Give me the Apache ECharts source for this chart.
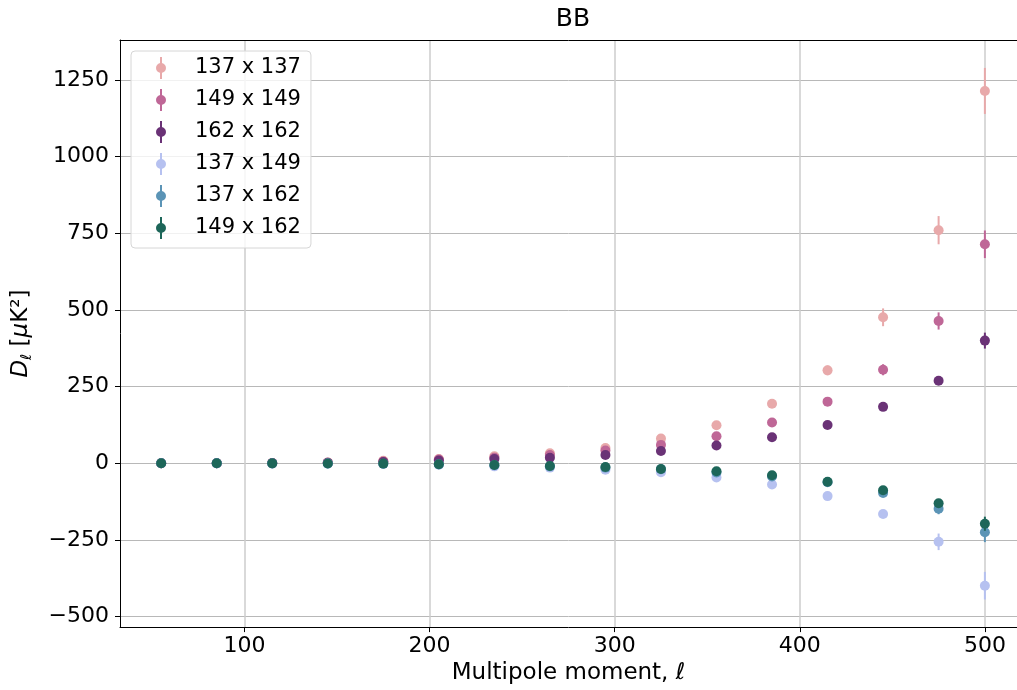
<!DOCTYPE html>
<html><head><meta charset="utf-8">
<script src="https://cdn.jsdelivr.net/npm/echarts@6/dist/echarts.min.js"></script>
<style>html,body{margin:0;padding:0;background:#fff}#c{width:1017px;height:690px}</style>
</head><body><div id="c"></div>
<script>
const ell = [55, 85, 115, 145, 175, 205, 235, 265, 295, 325, 355, 385, 415, 445, 475, 500];
const names = ['137 x 137', '149 x 149', '162 x 162', '137 x 149', '137 x 162', '149 x 162'];
const colors = ['#e8a9aa', '#bf6797', '#6a3276', '#b6c1f0', '#5b94b6', '#1d6659'];

const d137x137 = [0.3, 0.5, 1, 3, 8, 14, 23, 33, 50, 81, 124, 194, 303, 476, 760, 1214];
const e137x137 = [0.1, 0.2, 0.3, 0.5, 1, 1.5, 2, 3, 4, 5, 7, 9, 16, 29, 46, 75];
const d149x149 = [0.2, 0.4, 0.8, 2, 6, 12, 18, 27, 42, 60, 88, 133, 201, 305, 464, 714];
const e149x149 = [0.1, 0.1, 0.2, 0.4, 0.8, 1.2, 1.6, 2, 3, 4, 5, 7, 10, 18, 28, 45];
const d162x162 = [0.2, 0.3, 0.5, 1.5, 4, 9, 14, 18, 27, 40, 58, 85, 125, 184, 269, 400];
const e162x162 = [0.1, 0.1, 0.2, 0.3, 0.5, 0.8, 1, 1.5, 2, 3, 4, 5, 6, 8, 12, 26];
const d137x149 = [-0.1, -0.2, -0.4, -1, -2.5, -5, -10, -14, -21, -29, -46, -69, -107, -165, -256, -399];
const e137x149 = [0.1, 0.1, 0.2, 0.3, 0.5, 0.8, 1, 1.5, 2, 3, 4, 5, 7, 13, 27, 45];
const d137x162 = [-0.1, -0.1, -0.3, -0.8, -1.5, -3.5, -6, -10, -14, -19, -30, -43, -62, -97, -148, -225];
const e137x162 = [0.1, 0.1, 0.1, 0.2, 0.3, 0.5, 0.8, 1, 1.5, 2, 3, 4, 5, 8, 18, 32];
const d149x162 = [-0.1, -0.1, -0.2, -0.5, -1, -3, -5.5, -9, -12, -18.5, -26, -39, -60, -88, -130, -197];
const e149x162 = [0.1, 0.1, 0.1, 0.2, 0.3, 0.5, 0.7, 1, 1.5, 2, 3, 4, 5, 7, 10, 23];

const xTicks = [100, 200, 300, 400, 500];
const yTicks = [-500, -250, 0, 250, 500, 750, 1000, 1250];
const titleText = 'BB';

const values = [d137x137, d149x149, d162x162, d137x149, d137x162, d149x162];
const errors = [e137x137, e149x149, e162x162, e137x149, e137x162, e149x162];

const FONT = 'DejaVu Sans';
const series = [];
names.forEach((nm, i) => {
  const col = colors[i];
  series.push({
    name: nm + ' err', type: 'custom', silent: true, z: 2 + 2 * i,
    encode: {x: 0, y: [1, 2]},
    data: ell.map((x, j) => [x, values[i][j] - errors[i][j], values[i][j] + errors[i][j]]),
    renderItem: (params, api) => {
      const p1 = api.coord([api.value(0), api.value(1)]);
      const p2 = api.coord([api.value(0), api.value(2)]);
      return {type: 'line', shape: {x1: p1[0], y1: p1[1], x2: p2[0], y2: p2[1]},
              style: {stroke: col, lineWidth: 2}};
    }
  });
  series.push({
    name: nm, type: 'scatter', z: 3 + 2 * i, symbol: 'circle', symbolSize: 10,
    itemStyle: {color: col, opacity: 1},
    emphasis: {disabled: true},
    data: ell.map((x, j) => [x, values[i][j]])
  });
});

const XMIN = 32.75, XMAX = 517.35;
const chart = echarts.init(document.getElementById('c'), null, {renderer: 'canvas'});
chart.setOption({
  animation: false,
  backgroundColor: '#fff',
  textStyle: {fontFamily: FONT},
  title: {text: titleText, left: 573, top: 7, textAlign: 'center', padding: 0,
          textStyle: {fontFamily: FONT, fontSize: 25, fontWeight: 'normal', color: '#000'}},
  grid: {left: 120, right: 0, top: 40, bottom: 61, containLabel: false},
  legend: {
    data: names, orient: 'vertical', left: 131, top: 51,
    icon: 'path://M4,0 H6 V22 H4 Z M5,6 A5,5 0 1 1 5,16 A5,5 0 1 1 5,6 Z',
    itemWidth: 10, itemHeight: 22, itemGap: 10,
    padding: [6, 10, 9, 25],
    backgroundColor: 'rgba(255,255,255,0.8)', borderColor: '#d6d6d6', borderWidth: 1, borderRadius: 4,
    textStyle: {fontFamily: FONT, fontSize: 21, color: '#000', padding: [0, 0, 0, 24]},
    selectedMode: false
  },
  xAxis: [{
    type: 'value', min: XMIN, max: XMAX, minInterval: 100, maxInterval: 100,
    axisLine: {show: true, onZero: false, lineStyle: {color: '#000', width: 1}},
    axisTick: {show: true, length: 5, customValues: xTicks, lineStyle: {color: '#000', width: 1}},
    axisLabel: {customValues: xTicks,
                fontFamily: FONT, fontSize: 22, color: '#000', margin: 8},
    splitLine: {show: true, lineStyle: {color: '#cccccc', width: 1.5}},
    name: '{n|Multipole moment, }{i|ℓ}', nameLocation: 'middle', nameGap: 34,
    nameTextStyle: {rich: {
      n: {fontFamily: FONT, fontSize: 23, color: '#000'},
      i: {fontFamily: FONT, fontSize: 23, color: '#000', fontStyle: 'italic'}
    }}
  }, {
    type: 'value', position: 'top', min: XMIN, max: XMAX,
    axisLine: {show: true, onZero: false, lineStyle: {color: '#000', width: 1}},
    axisTick: {show: false}, axisLabel: {show: false}, splitLine: {show: false}
  }],
  yAxis: {
    type: 'value', min: -534, max: 1380, minInterval: 250, maxInterval: 250,
    axisLine: {show: true, onZero: false, lineStyle: {color: '#000', width: 1}},
    axisTick: {show: true, length: 5, customValues: yTicks, lineStyle: {color: '#000', width: 1}},
    axisLabel: {customValues: yTicks,
                fontFamily: FONT, fontSize: 22, color: '#000', margin: 11,
                formatter: v => v < 0 ? '\u2212' + Math.abs(v) : String(v)},
    splitLine: {show: true, lineStyle: {color: '#b8b8b8', width: 1}},
    name: '{i|D}{s|ℓ}{n| [}{i|μ}{n|K²]}', nameLocation: 'middle', nameGap: 85, nameRotate: 90,
    nameTextStyle: {rich: {
      n: {fontFamily: FONT, fontSize: 23, color: '#000', lineHeight: 28},
      i: {fontFamily: FONT, fontSize: 23, color: '#000', fontStyle: 'italic', lineHeight: 28},
      s: {fontFamily: FONT, fontSize: 15, color: '#000', fontStyle: 'italic', lineHeight: 16, verticalAlign: 'bottom'}
    }}
  },
  series: series
});
</script>
</body></html>
